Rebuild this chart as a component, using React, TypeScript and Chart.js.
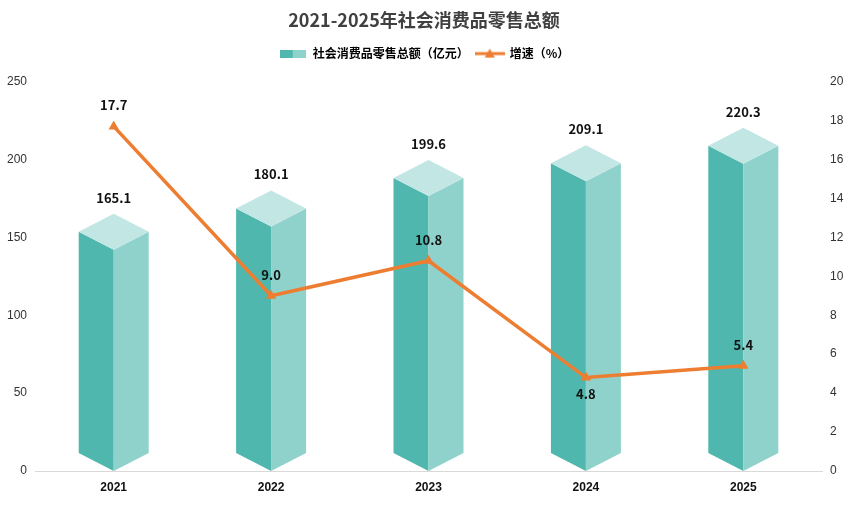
import { useEffect, useRef } from 'react';
import { Chart, registerables, type ChartConfiguration, type Plugin } from 'chart.js';

Chart.register(...registerables);

const YEARS = ['2021', '2022', '2023', '2024', '2025'];
const RETAIL_TOTAL = [165.1, 180.1, 199.6, 209.1, 220.3];
const GROWTH_RATE = [17.7, 9.0, 10.8, 4.8, 5.4];
// where the growth label sits relative to its point
const GROWTH_LABEL_SIDE = ['above', 'above', 'above', 'below', 'above'];

const TITLE = '2021-2025年社会消费品零售总额';
const BAR_LABEL = '社会消费品零售总额（亿元）';
const LINE_LABEL = '增速（%）';

const TEAL_DARK = '#4fb7ad';
const TEAL_LIGHT = '#8fd2cb';
const TEAL_TOP = '#c1e6e3';
const ORANGE = '#ed7d31';
const CJK = '"Noto Sans CJK SC", "Noto Sans", sans-serif';
const DEPTH = 18;

const prismPlugin: Plugin = {
  id: 'prism',
  beforeLayout(chart) {
    // push the plot area down a little below the legend
    const legend: any = (chart as any).legend;
    if (!legend || legend._padded) return;
    legend._padded = true;
    const fit = legend.fit;
    legend.fit = function () {
      fit.call(this);
      this.height += 12;
    };
  },
  beforeDatasetsDraw(chart) {
    const ctx = chart.ctx;
    const meta = chart.getDatasetMeta(0);
    meta.data.forEach((el: any) => {
      const { x, y, base, width } = el.getProps(['x', 'y', 'base', 'width'], true);
      const w = width / 2;
      const d = DEPTH;
      ctx.save();
      // left face
      ctx.fillStyle = TEAL_DARK;
      ctx.beginPath();
      ctx.moveTo(x - w, y + d);
      ctx.lineTo(x, y + 2 * d);
      ctx.lineTo(x, base);
      ctx.lineTo(x - w, base - d);
      ctx.closePath();
      ctx.fill();
      // right face
      ctx.fillStyle = TEAL_LIGHT;
      ctx.beginPath();
      ctx.moveTo(x, y + 2 * d);
      ctx.lineTo(x + w, y + d);
      ctx.lineTo(x + w, base - d);
      ctx.lineTo(x, base);
      ctx.closePath();
      ctx.fill();
      // top
      ctx.fillStyle = TEAL_TOP;
      ctx.beginPath();
      ctx.moveTo(x, y);
      ctx.lineTo(x + w, y + d);
      ctx.lineTo(x, y + 2 * d);
      ctx.lineTo(x - w, y + d);
      ctx.closePath();
      ctx.fill();
      ctx.restore();
    });
  },
  afterDatasetsDraw(chart) {
    const ctx = chart.ctx;
    ctx.save();
    ctx.font = `bold 13px ${CJK}`;
    ctx.fillStyle = '#111';
    ctx.textAlign = 'center';
    ctx.textBaseline = 'middle';
    chart.getDatasetMeta(0).data.forEach((el: any, i) => {
      ctx.fillText(RETAIL_TOTAL[i].toFixed(1), el.x, el.y - 16);
    });
    chart.getDatasetMeta(1).data.forEach((el: any, i) => {
      const dy = GROWTH_LABEL_SIDE[i] === 'below' ? 17 : -21;
      ctx.fillText(GROWTH_RATE[i].toFixed(1), el.x, el.y + dy);
    });
    ctx.restore();
  },
};

function makeBarSwatch() {
  const c = document.createElement('canvas');
  c.width = 26;
  c.height = 8;
  const g = c.getContext('2d')!;
  g.fillStyle = TEAL_DARK;
  g.fillRect(0, 0, 13, 8);
  g.fillStyle = TEAL_LIGHT;
  g.fillRect(13, 0, 13, 8);
  return c;
}

function makeLineSwatch() {
  const c = document.createElement('canvas');
  c.width = 30;
  c.height = 12;
  const g = c.getContext('2d')!;
  g.strokeStyle = ORANGE;
  g.lineWidth = 3;
  g.beginPath();
  g.moveTo(0, 6);
  g.lineTo(30, 6);
  g.stroke();
  g.fillStyle = ORANGE;
  g.beginPath();
  g.moveTo(15, 1);
  g.lineTo(20, 10);
  g.lineTo(10, 10);
  g.closePath();
  g.fill();
  return c;
}

export default function App() {
  const canvasRef = useRef<HTMLCanvasElement>(null);
  const chartRef = useRef<Chart | null>(null);

  useEffect(() => {
    document.body.style.margin = '0';
    const canvas = canvasRef.current;
    if (!canvas) return;
    if (chartRef.current) chartRef.current.destroy();

    const barSwatch = makeBarSwatch();
    const lineSwatch = makeLineSwatch();

    const config: ChartConfiguration = {
      type: 'bar',
      data: {
        labels: YEARS,
        datasets: [
          {
            type: 'bar',
            label: BAR_LABEL,
            data: RETAIL_TOTAL,
            backgroundColor: 'rgba(0,0,0,0)',
            barThickness: 70,
            yAxisID: 'y',
            order: 2,
          },
          {
            type: 'line',
            label: LINE_LABEL,
            data: GROWTH_RATE,
            borderColor: ORANGE,
            backgroundColor: ORANGE,
            borderWidth: 3.5,
            pointStyle: 'triangle',
            pointRadius: 6,
            pointBorderWidth: 0,
            pointBackgroundColor: ORANGE,
            tension: 0,
            yAxisID: 'y1',
            order: 1,
          },
        ] as any,
      },
      options: {
        responsive: true,
        maintainAspectRatio: false,
        animation: false,
        layout: { padding: 0 },
        plugins: {
          title: {
            display: true,
            text: TITLE,
            color: '#404040',
            font: { family: CJK, size: 18, weight: 'bold' },
            padding: { top: 9, bottom: 10 },
          },
          legend: {
            display: true,
            position: 'top',
            labels: {
              color: '#222',
              font: { family: CJK, size: 12, weight: 'bold' },
              usePointStyle: true,
              pointStyleWidth: 28,
              padding: 7,
              generateLabels: () => [
                { text: BAR_LABEL, pointStyle: barSwatch, fillStyle: TEAL_DARK, strokeStyle: TEAL_DARK, lineWidth: 0, datasetIndex: 0, hidden: false },
                { text: LINE_LABEL, pointStyle: lineSwatch, fillStyle: ORANGE, strokeStyle: ORANGE, lineWidth: 0, datasetIndex: 1, hidden: false },
              ] as any,
            },
          },
          tooltip: { enabled: false },
        },
        scales: {
          x: {
            grid: { display: false, drawTicks: false },
            border: { display: true, color: '#d9d9d9', width: 1 },
            ticks: {
              color: '#111',
              font: { family: '"Liberation Sans", Arial, sans-serif', size: 12, weight: 'bold' },
              padding: 9,
            },
            afterFit: (s: any) => { s.height = 35; },
          },
          y: {
            position: 'left',
            min: 0,
            max: 250,
            grid: { display: false, drawTicks: false },
            border: { display: false },
            ticks: {
              stepSize: 50,
              color: '#333',
              padding: 8,
              font: { family: '"Liberation Sans", Arial, sans-serif', size: 12 },
            },
            afterFit: (s: any) => { s.width = 35; },
          },
          y1: {
            position: 'right',
            min: 0,
            max: 20,
            grid: { display: false, drawTicks: false },
            border: { display: false },
            ticks: {
              stepSize: 2,
              color: '#333',
              padding: 8,
              font: { family: '"Liberation Sans", Arial, sans-serif', size: 12 },
            },
            afterFit: (s: any) => { s.width = 26; },
          },
        },
      },
      plugins: [prismPlugin],
    };

    chartRef.current = new Chart(canvas, config);
    return () => { chartRef.current?.destroy(); chartRef.current = null; };
  }, []);

  return (
    <div style={{ position: 'relative', width: 848, height: 506 }}>
      <canvas ref={canvasRef} />
    </div>
  );
}
